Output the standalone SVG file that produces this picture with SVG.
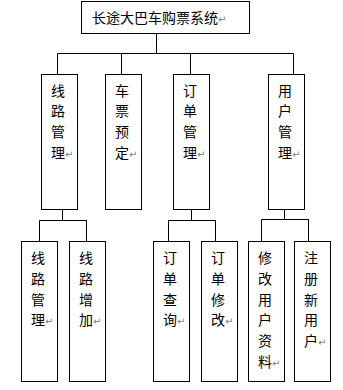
<svg xmlns="http://www.w3.org/2000/svg" width="343" height="390" viewBox="0 0 343 390">
<style>
.box{fill:#fff;stroke:#000;stroke-width:1}
.ln{fill:none;stroke:#000;stroke-width:1}
.t{font-family:"Noto Sans CJK SC","Noto Sans",sans-serif;font-size:14px;fill:#000}
.m{font-family:"DejaVu Sans",sans-serif;font-size:10px;fill:#808080}
</style>
<rect width="343" height="390" fill="#fff"/>
<g id="connectors">
<path class="ln" d="M156.5,33.5V53.5M57.5,53.5H293.5M57.5,53.5V74M121.5,53.5V74M190.5,53.5V74M293.5,53.5V74"/>
<path class="ln" d="M62.5,209.5V220.5M39.5,220.5H87M39.5,220.5V241.5M86.5,220.5V241.5"/>
<path class="ln" d="M191.5,209.5V220.5M168.5,220.5H216M168.5,220.5V241.5M215.5,220.5V241.5"/>
<path class="ln" d="M284.5,209.5V219.5M261.5,219.5H309M261.5,219.5V241.5M308.5,219.5V241.5"/>
</g>
<g id="root">
<rect class="box" x="81.5" y="1.5" width="168" height="32"/>
<text class="t" x="92" y="22.5">长途大巴车购票系统<tspan class="m">↵</tspan></text>
</g>
<g id="n1">
<rect class="box" x="41.5" y="74.5" width="36" height="135"/>
<text class="t" x="51"><tspan x="51" y="95.5">线</tspan><tspan x="51" y="116.3">路</tspan><tspan x="51" y="137.1">管</tspan><tspan x="51" y="157.9">理<tspan class="m">↵</tspan></tspan></text>
</g>
<g id="n2">
<rect class="box" x="105.5" y="74.5" width="36" height="135"/>
<text class="t"><tspan x="115" y="95.5">车</tspan><tspan x="115" y="116.3">票</tspan><tspan x="115" y="137.1">预</tspan><tspan x="115" y="157.9">定<tspan class="m">↵</tspan></tspan></text>
</g>
<g id="n3">
<rect class="box" x="173.5" y="74.5" width="36" height="135"/>
<text class="t"><tspan x="183" y="95.5">订</tspan><tspan x="183" y="116.3">单</tspan><tspan x="183" y="137.1">管</tspan><tspan x="183" y="157.9">理<tspan class="m">↵</tspan></tspan></text>
</g>
<g id="n4">
<rect class="box" x="268.5" y="74.5" width="36" height="135"/>
<text class="t"><tspan x="278" y="95.5">用</tspan><tspan x="278" y="116.3">户</tspan><tspan x="278" y="137.1">管</tspan><tspan x="278" y="157.9">理<tspan class="m">↵</tspan></tspan></text>
</g>
<g id="n11">
<rect class="box" x="21.5" y="241.5" width="36" height="140"/>
<text class="t"><tspan x="31" y="263.3">线</tspan><tspan x="31" y="284">路</tspan><tspan x="31" y="304.7">管</tspan><tspan x="31" y="325.4">理<tspan class="m">↵</tspan></tspan></text>
</g>
<g id="n12">
<rect class="box" x="69.5" y="241.5" width="36" height="140"/>
<text class="t"><tspan x="79" y="263.3">线</tspan><tspan x="79" y="284">路</tspan><tspan x="79" y="304.7">增</tspan><tspan x="79" y="325.4">加<tspan class="m">↵</tspan></tspan></text>
</g>
<g id="n31">
<rect class="box" x="153.5" y="241.5" width="36" height="140"/>
<text class="t"><tspan x="163" y="263.3">订</tspan><tspan x="163" y="284">单</tspan><tspan x="163" y="304.7">查</tspan><tspan x="163" y="325.4">询<tspan class="m">↵</tspan></tspan></text>
</g>
<g id="n32">
<rect class="box" x="201.5" y="241.5" width="36" height="140"/>
<text class="t"><tspan x="211" y="263.3">订</tspan><tspan x="211" y="284">单</tspan><tspan x="211" y="304.7">修</tspan><tspan x="211" y="325.4">改<tspan class="m">↵</tspan></tspan></text>
</g>
<g id="n41">
<rect class="box" x="248.5" y="241.5" width="36" height="140"/>
<text class="t"><tspan x="258" y="263.3">修</tspan><tspan x="258" y="284">改</tspan><tspan x="258" y="304.7">用</tspan><tspan x="258" y="325.4">户</tspan><tspan x="258" y="346.1">资</tspan><tspan x="258" y="366.8">料<tspan class="m">↵</tspan></tspan></text>
</g>
<g id="n42">
<rect class="box" x="294.5" y="241.5" width="36" height="140"/>
<text class="t"><tspan x="304" y="263.3">注</tspan><tspan x="304" y="284">册</tspan><tspan x="304" y="304.7">新</tspan><tspan x="304" y="325.4">用</tspan><tspan x="304" y="346.1">户<tspan class="m">↵</tspan></tspan></text>
</g>
</svg>
